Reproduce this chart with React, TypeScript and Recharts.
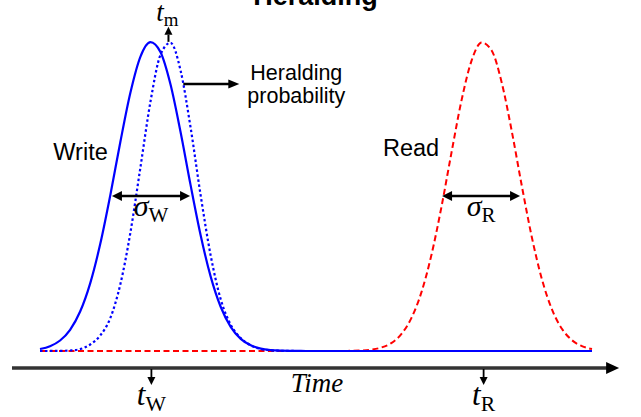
import { Line, LineChart, ReferenceDot, ReferenceLine, XAxis, YAxis } from "recharts";

// time axis in arbitrary units (one unit per sample)
const time = [
  0, 1, 2, 3, 4, 5, 6, 7, 8, 9, 10, 11, 12, 13, 14, 15, 16, 17, 18, 19, 20, 21, 22, 23, 24, 25, 26, 27,
  28, 29, 30, 31, 32, 33, 34, 35, 36, 37, 38, 39, 40, 41, 42, 43, 44, 45, 46, 47, 48, 49, 50, 51, 52, 53,
  54, 55,
];

const writePulse = [
  0.0065, 0.0156, 0.034, 0.0687, 0.1277, 0.219, 0.346, 0.5035, 0.6757, 0.835, 0.952, 0.9996, 0.9675,
  0.863, 0.7094, 0.5375, 0.3753, 0.2415, 0.1432, 0.0783, 0.0394, 0.0183, 0.0078, 0.0031, 0.0011, 0.0004,
  0.0001, 0, 0, 0, 0, 0, 0, 0, 0, 0, 0, 0, 0, 0, 0, 0, 0, 0, 0, 0, 0, 0, 0, 0, 0, 0, 0, 0, 0, 0,
];

const heraldingProbability = [
  0, 0.0001, 0.0004, 0.0017, 0.006, 0.021, 0.05, 0.106, 0.2153, 0.3819, 0.5929, 0.8057, 0.9582, 0.9973,
  0.9085, 0.7242, 0.5053, 0.31, 0.168, 0.085, 0.042, 0.018, 0.0065, 0.0022, 0.0007, 0.0002, 0, 0, 0, 0,
  0, 0, 0, 0, 0, 0, 0, 0, 0, 0, 0, 0, 0, 0, 0, 0, 0, 0, 0, 0, 0, 0, 0, 0, 0, 0,
];

const readPulse = [
  0, 0, 0, 0, 0, 0, 0, 0, 0, 0, 0, 0, 0, 0, 0, 0, 0, 0, 0, 0, 0, 0, 0, 0, 0, 0, 0, 0, 0, 0, 0.0002,
  0.0005, 0.0016, 0.0044, 0.0111, 0.0257, 0.0546, 0.1062, 0.1896, 0.3105, 0.4663, 0.6422, 0.8111, 0.9396,
  0.9983, 0.9727, 0.8692, 0.7124, 0.5355, 0.3691, 0.2334, 0.1353, 0.072, 0.0351, 0.0157, 0.0064,
];

const tWrite = 11.1;
const tRead = 44.2;
const tHerald = 12.8;

const data = time.map((t, i) => ({
  t,
  write: writePulse[i],
  herald: heraldingProbability[i],
  read: readPulse[i],
}));

const BLUE = "#0000ff";
const RED = "#ff0000";
const SANS = "'Liberation Sans', Arial, sans-serif";
const SERIF = "'Liberation Serif', 'DejaVu Serif', serif";
const AXIS_Y = -0.055;

// arrowhead polygon with its tip at (x, y), pointing along angle
function head(x: number, y: number, angle: number, len: number, half: number) {
  const bx = x - len * Math.cos(angle);
  const by = y - len * Math.sin(angle);
  const nx = -Math.sin(angle) * half;
  const ny = Math.cos(angle) * half;
  return `${x},${y} ${bx + nx},${by + ny} ${bx - nx},${by - ny}`;
}

function MathLabel({ x, y, sym, sub, size }: { x: number; y: number; sym: string; sub: string; size: number }) {
  return (
    <text x={x} y={y} textAnchor="middle" fontFamily={SERIF} fontSize={size} fill="#000">
      <tspan fontStyle="italic">{sym}</tspan>
      <tspan fontSize={size * 0.7} dy={size * 0.2}>
        {sub}
      </tspan>
    </text>
  );
}

function SansLabel({ x, y, text, size = 21, weight = 400 }: { x: number; y: number; text: string; size?: number; weight?: number }) {
  return (
    <text x={x} y={y} textAnchor="middle" fontFamily={SANS} fontSize={size} fontWeight={weight} fill="#000">
      {text}
    </text>
  );
}

const axisShape = (p: any) => (
  <g>
    <line x1={p.x1} y1={p.y1} x2={p.x2 - 10} y2={p.y2} stroke="#333" strokeWidth={3.5} />
    <polygon points={head(p.x2, p.y2, 0, 13, 6)} fill="#000" />
  </g>
);

const tickShape = (sub: string) => (p: any) => (
  <g>
    <line x1={p.cx} y1={p.cy + 1} x2={p.cx} y2={p.cy + 10} stroke="#000" strokeWidth={1.8} />
    <polygon points={head(p.cx, p.cy + 17, Math.PI / 2, 8, 4)} fill="#000" />
    <MathLabel x={p.cx} y={p.cy + 37} sym="t" sub={sub} size={31} />
  </g>
);

const widthShape = (sub: string) => (p: any) => (
  <g>
    <line x1={p.x1 + 8} y1={p.y1} x2={p.x2 - 8} y2={p.y2} stroke="#000" strokeWidth={2.5} />
    <polygon points={head(p.x1, p.y1, Math.PI, 10, 5)} fill="#000" />
    <polygon points={head(p.x2, p.y2, 0, 10, 5)} fill="#000" />
    <MathLabel x={(p.x1 + p.x2) / 2} y={p.y1 + 20} sym="σ" sub={sub} size={30} />
  </g>
);

const heraldShape = (p: any) => (
  <g>
    <line x1={p.x1} y1={p.y1} x2={p.x2 - 8} y2={p.y2} stroke="#000" strokeWidth={2.5} />
    <polygon points={head(p.x2, p.y2, 0, 11, 4.5)} fill="#000" />
    <SansLabel x={p.x2 + 57} y={p.y1 - 4} text="Heralding" size={21.5} />
    <SansLabel x={p.x2 + 57} y={p.y1 + 19} text="probability" size={21.5} />
  </g>
);

const peakShape = (p: any) => (
  <g>
    <line x1={p.cx} y1={p.cy - 1} x2={p.cx} y2={p.cy - 8} stroke="#000" strokeWidth={2} />
    <polygon points={head(p.cx, p.cy - 16, -Math.PI / 2, 8, 4)} fill="#000" />
    <MathLabel x={p.cx - 1} y={p.cy - 22} sym="t" sub="m" size={27} />
  </g>
);

const textShape = (text: string, opts: { size?: number; weight?: number } = {}) => (p: any) => (
  <SansLabel x={p.cx} y={p.cy} text={text} size={opts.size} weight={opts.weight} />
);

const timeShape = (p: any) => (
  <text x={p.cx} y={p.cy + 24} textAnchor="middle" fontFamily={SERIF} fontStyle="italic" fontSize={27} fill="#000">
    Time
  </text>
);

export default function App() {
  return (
    <div style={{ position: "absolute", left: 0, top: 0, width: 641, height: 417, background: "#fff" }}>
      <LineChart width={641} height={417} data={data} margin={{ top: 42, right: 49, bottom: 66, left: 40 }}>
        <XAxis dataKey="t" type="number" domain={[0, 55]} tickCount={12} hide />
        <YAxis type="number" domain={[0, 1]} hide />
        <Line
          dataKey="read"
          type="monotone"
          stroke={RED}
          strokeWidth={2}
          strokeDasharray="6 3.5"
          dot={false}
          isAnimationActive={false}
        />
        <Line
          dataKey="herald"
          type="monotone"
          stroke={BLUE}
          strokeWidth={2.2}
          strokeDasharray="2.5 2.5"
          dot={false}
          isAnimationActive={false}
        />
        <Line dataKey="write" type="monotone" stroke={BLUE} strokeWidth={2.2} dot={false} isAnimationActive={false} />

        <ReferenceLine
          segment={[
            { x: -2.79, y: AXIS_Y },
            { x: 57.7, y: AXIS_Y },
          ]}
          ifOverflow="visible"
          shape={axisShape}
        />
        <ReferenceDot x={tWrite} y={AXIS_Y} r={0} ifOverflow="visible" shape={tickShape("W")} />
        <ReferenceDot x={tRead} y={AXIS_Y} r={0} ifOverflow="visible" shape={tickShape("R")} />
        <ReferenceDot x={27.6} y={AXIS_Y} r={0} ifOverflow="visible" shape={timeShape} />

        <ReferenceLine
          segment={[
            { x: 7.17, y: 0.502 },
            { x: 14.95, y: 0.502 },
          ]}
          ifOverflow="visible"
          shape={widthShape("W")}
        />
        <ReferenceLine
          segment={[
            { x: 40.06, y: 0.502 },
            { x: 47.83, y: 0.502 },
          ]}
          ifOverflow="visible"
          shape={widthShape("R")}
        />
        <ReferenceLine
          segment={[
            { x: 14.28, y: 0.864 },
            { x: 19.86, y: 0.864 },
          ]}
          ifOverflow="visible"
          shape={heraldShape}
        />
        <ReferenceDot x={tHerald} y={0.9973} r={0} ifOverflow="visible" shape={peakShape} />

        <ReferenceDot x={4.04} y={0.618} r={0} ifOverflow="visible" shape={textShape("Write", { size: 23.5 })} />
        <ReferenceDot x={36.97} y={0.631} r={0} ifOverflow="visible" shape={textShape("Read", { size: 23.5 })} />
        <ReferenceDot
          x={27.45}
          y={1.12}
          r={0}
          ifOverflow="visible"
          shape={textShape("Heralding", { size: 27, weight: 700 })}
        />
      </LineChart>
    </div>
  );
}
